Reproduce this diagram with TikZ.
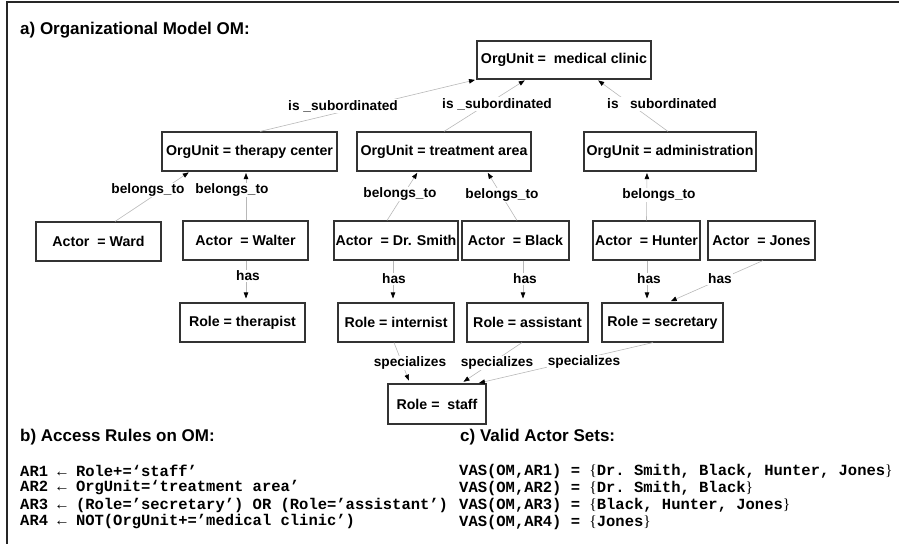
\documentclass[tikz,border=0pt]{standalone}
\usepackage{fontspec}
\setmainfont{Liberation Sans}
\setmonofont{Liberation Mono}
\newfontfamily\bracefont{Liberation Serif}
\usetikzlibrary{arrows.meta}

% serif set braces inside the monospaced formulas
\newcommand\setopen{{\bracefont\mdseries\{}}
\newcommand\setclose{{\bracefont\mdseries\}}}

\tikzset{
  unitbox/.style={draw=black!80, line width=1.1pt, minimum height=39pt, inner sep=0pt,
    font=\fontsize{14.2}{16}\selectfont\bfseries},
  rel/.style={draw=black!28, line width=0.6pt,
    -{Triangle[length=6pt,width=4.5pt,color=black]}, shorten >=1.5pt},
  rellabel/.style={fill=white, inner sep=1pt, font=\fontsize{13.7}{16}\selectfont\bfseries},
  heading/.style={anchor=west, inner sep=0pt, font=\fontsize{17}{20}\selectfont\bfseries},
  ruleline/.style={anchor=west, inner sep=0pt, font=\fontsize{15.5}{17}\selectfont\ttfamily\bfseries},
}

\begin{document}
\begin{tikzpicture}[x=1pt, y=-1pt]
\useasboundingbox (0,0) rectangle (899,544);

% frame (top and left rules)
\draw[line width=1.4pt, black!85] (6,2) -- (899,2);
\draw[line width=1.4pt, black!85] (7,2) -- (7,544);

% headings
\node[heading] (ha) at (20,30) {a) Organizational Model OM:};
\node[heading] (hb) at (20,437) {b) Access Rules on OM:};
\node[heading] (hc) at (460,437) {c) Valid Actor Sets:};

% organisational units
\node[unitbox, minimum width=174pt, minimum height=38pt] (clinic) at (564,60) {OrgUnit =\ \ medical clinic};
\node[unitbox, minimum width=175pt] (therapy) at (249.5,151.5) {OrgUnit = therapy center};
\node[unitbox, minimum width=174pt] (treatment) at (444,151.5) {OrgUnit = treatment area};
\node[unitbox, minimum width=172pt] (admin) at (670,151.5) {OrgUnit = administration};

% actors
\node[unitbox, minimum width=125pt] (ward) at (98.5,241.5) {Actor\ \ = Ward};
\node[unitbox, minimum width=125pt] (walter) at (245.5,240.5) {Actor\ \ = Walter};
\node[unitbox, minimum width=124pt] (smith) at (396,240.5) {Actor\ \ = Dr. Smith};
\node[unitbox, minimum width=107pt] (black) at (515.5,240.5) {Actor\ \ = Black};
\node[unitbox, minimum width=107pt] (hunter) at (646.5,240.5) {Actor\ \ = Hunter};
\node[unitbox, minimum width=107pt] (jones) at (761.5,240.5) {Actor\ \ = Jones};

% roles
\node[unitbox, minimum width=125pt] (therapist) at (242.5,322.5) {Role = therapist};
\node[unitbox, minimum width=116pt] (internist) at (396,322.5) {Role = internist};
\node[unitbox, minimum width=121pt] (assistant) at (527.5,322.5) {Role = assistant};
\node[unitbox, minimum width=121pt] (secretary) at (662.5,322.5) {Role = secretary};
\node[unitbox, minimum width=98pt, minimum height=40pt] (staff) at (437,404) {Role =\ \ staff};

% is_subordinated
\draw[rel] ([xshift=10.5pt]therapy.north) -- (clinic.south west);
\draw[rel] (treatment.north) -- ([xshift=-38pt]clinic.south);
\draw[rel] ([xshift=-2pt]admin.north) -- ([xshift=33pt]clinic.south);

% belongs_to
\draw[rel] ([xshift=16.5pt]ward.north) -- ([xshift=-59.5pt]therapy.south);
\draw[rel] ([xshift=0.5pt]walter.north) -- ([xshift=-3.5pt]therapy.south);
\draw[rel] ([xshift=-9pt]smith.north) -- ([xshift=-26pt]treatment.south);
\draw[rel] ([xshift=1.5pt]black.north) -- ([xshift=43pt]treatment.south);
\draw[rel] (hunter.north) -- ([xshift=-23pt]admin.south);

% has
\draw[rel, shorten >=4pt] ([xshift=0.5pt]walter.south) -- ([xshift=3.5pt]therapist.north);
\draw[rel, shorten >=4pt] ([xshift=-3pt]smith.south) -- ([xshift=-3pt]internist.north);
\draw[rel, shorten >=4pt] ([xshift=7.5pt]black.south) -- ([xshift=-4.5pt]assistant.north);
\draw[rel, shorten >=4pt] ([xshift=0.5pt]hunter.south) -- ([xshift=-15.5pt]secretary.north);
\draw[rel, shorten >=3pt] ([xshift=1.5pt]jones.south) -- ([xshift=5.5pt]secretary.north);

% specializes
\draw[rel, shorten >=3pt] ([xshift=-2pt]internist.south) -- ([xshift=-27pt]staff.north);
\draw[rel, shorten >=3pt] ([xshift=-5.5pt]assistant.south) -- ([xshift=24pt]staff.north);
\draw[rel, shorten >=2pt] ([xshift=-9.5pt]secretary.south) -- ([xshift=40pt]staff.north);

% relation labels
\node[rellabel] (sub1) at (343,106) {is \_subordinated};
\node[rellabel] (sub2) at (497,104) {is \_subordinated};
\node[rellabel] (sub3) at (662,104) {is \phantom{\_}subordinated};
\node[rellabel] (bel1) at (148,190) {belongs\_to};
\node[rellabel] (bel2) at (232,190) {belongs\_to};
\node[rellabel] (bel3) at (400,194) {belongs\_to};
\node[rellabel] (bel4) at (502,195) {belongs\_to};
\node[rellabel] (bel5) at (659,195) {belongs\_to};
\node[rellabel] (has1) at (248,276) {has};
\node[rellabel] (has2) at (394,279) {has};
\node[rellabel] (has3) at (525,279) {has};
\node[rellabel] (has4) at (649,279) {has};
\node[rellabel] (has5) at (720,279) {has};
\node[rellabel] (spec1) at (410,363) {specializes};
\node[rellabel] (spec2) at (497,363) {specializes};
\node[rellabel] (spec3) at (584,362) {specializes};

% access rules
\node[ruleline] (ar1) at (20,471) {AR1 ← Role+=‘staff’};
\node[ruleline] (ar2) at (20,488) {AR2 ← OrgUnit=‘treatment area’};
\node[ruleline] (ar3) at (20,505) {AR3 ← (Role=’secretary’) OR (Role=’assistant’)};
\node[ruleline] (ar4) at (20,522) {AR4 ← NOT(OrgUnit+=’medical clinic’)};

% valid actor sets
\node[ruleline] (vas1) at (459,471) {VAS(OM,AR1) = \setopen Dr. Smith, Black, Hunter, Jones\setclose};
\node[ruleline] (vas2) at (459,488) {VAS(OM,AR2) = \setopen Dr. Smith, Black\setclose};
\node[ruleline] (vas3) at (459,505) {VAS(OM,AR3) = \setopen Black, Hunter, Jones\setclose};
\node[ruleline] (vas4) at (459,522) {VAS(OM,AR4) = \setopen Jones\setclose};
\end{tikzpicture}
\end{document}
